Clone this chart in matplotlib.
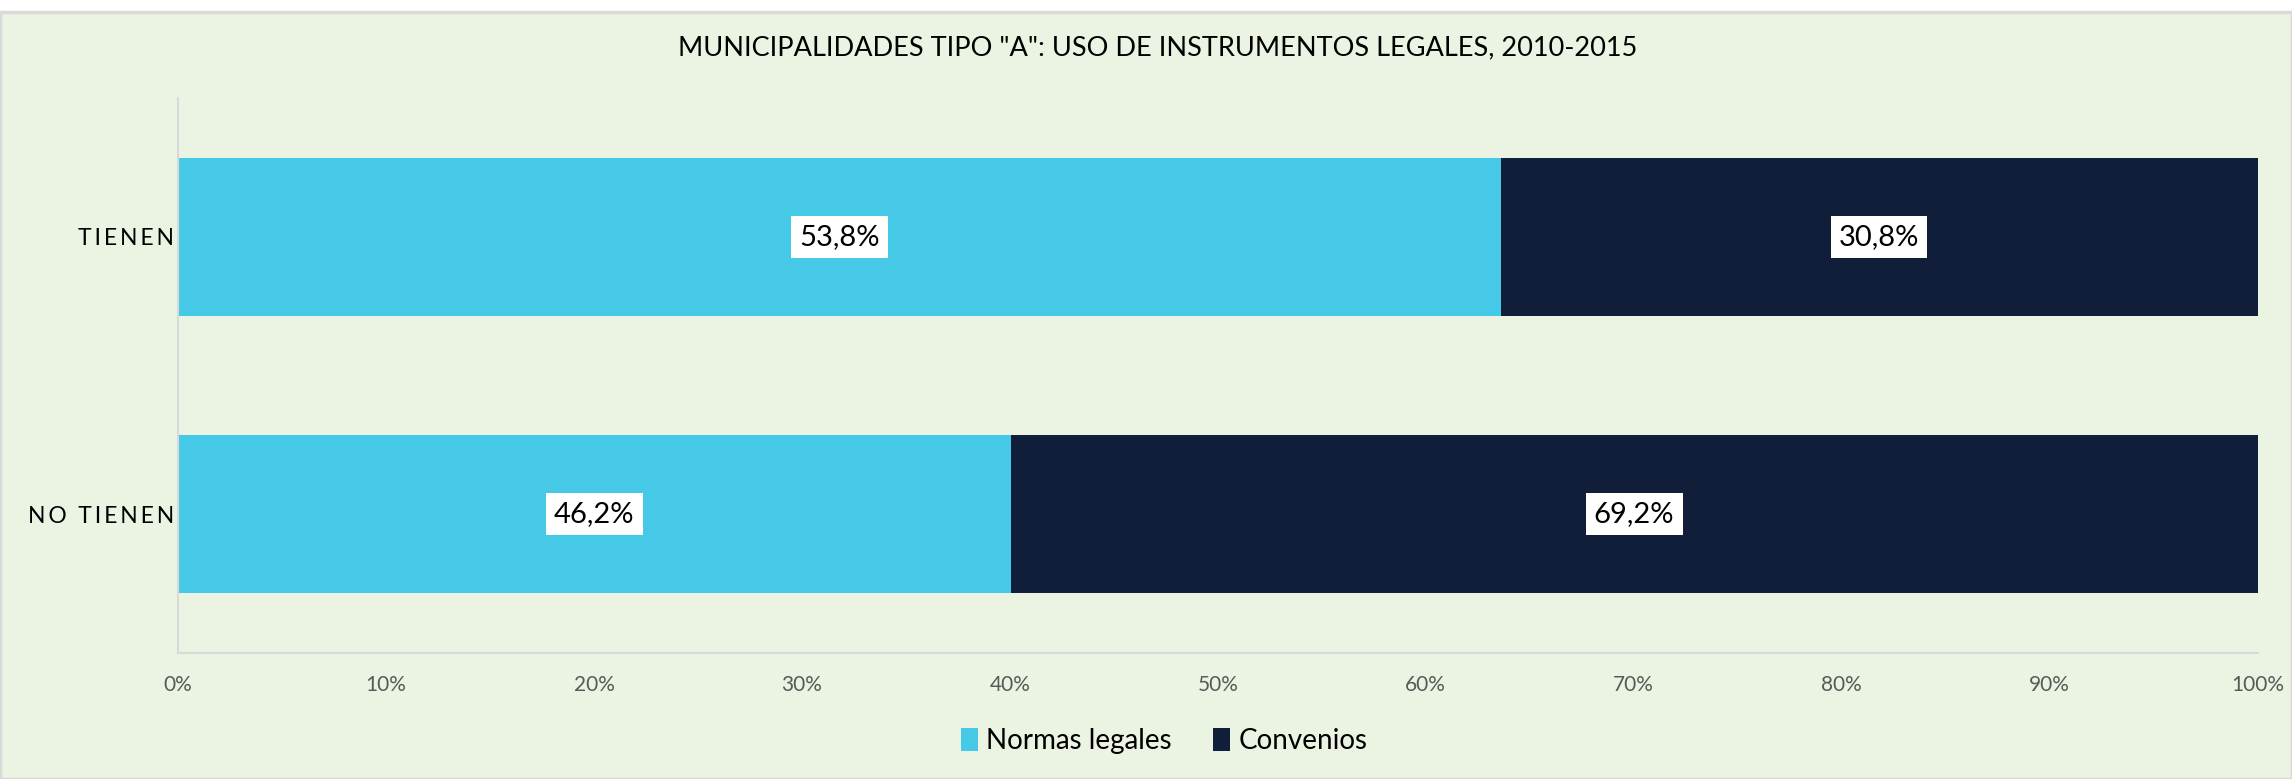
import matplotlib
matplotlib.use("Agg")
import matplotlib.pyplot as plt
import matplotlib.patches as mpatches
import numpy as np

# datos
categorias = ["TIENEN", "NO TIENEN"]
normas = [53.8, 46.2]
convenios = [30.8, 69.2]
ticks = [0, 10, 20, 30, 40, 50, 60, 70, 80, 90, 100]

c_normas = "#46C9E7"
c_conv = "#111E3A"
fondo = "#EBF4E3"

plt.rcParams["font.family"] = ["Lato", "DejaVu Sans"]


def espaciado(txt):
    # letras separadas como en el original
    return "\u2009".join(txt).replace("\u2009 \u2009", "\u2009\u2009\u2009\u2009")


fig = plt.figure(figsize=(22.92, 7.79), dpi=100)
fig.patch.set_facecolor("white")
fig.patches.append(mpatches.Rectangle((0.0, 0.0), 1.0, 1 - 12 / 779, transform=fig.transFigure,
                                      facecolor=fondo, edgecolor="#D9D9D9", linewidth=2.5, zorder=-10))

ax = fig.add_axes([0.0777, 0.1617, 0.9073, 0.7123])
ax.set_facecolor(fondo)

tot = np.array(normas) + np.array(convenios)
p_norm = np.array(normas) / tot * 100
p_conv = np.array(convenios) / tot * 100
y = np.arange(len(categorias))
h = 0.57

ax.barh(y, p_norm, height=h, color=c_normas, label="Normas legales")
ax.barh(y, p_conv, left=p_norm, height=h, color=c_conv, label="Convenios")

for i in range(len(categorias)):
    ax.text(p_norm[i] / 2, y[i], f"{normas[i]:.1f}%".replace(".", ","), ha="center", va="center",
            fontsize=21, color="black",
            bbox=dict(boxstyle="square,pad=0.28", facecolor="white", edgecolor="none"))
    ax.text(p_norm[i] + p_conv[i] / 2, y[i], f"{convenios[i]:.1f}%".replace(".", ","), ha="center",
            va="center", fontsize=21, color="black",
            bbox=dict(boxstyle="square,pad=0.28", facecolor="white", edgecolor="none"))

ax.set_xlim(0, 100)
ax.set_ylim(1.5, -0.5)
ax.set_xticks(ticks)
ax.set_xticklabels([f"{t}%" for t in ticks], fontsize=15, color="#595959")
ax.set_yticks(y)
ax.set_yticklabels([espaciado(c) for c in categorias], fontsize=16.5, color="black")
ax.tick_params(length=0)
ax.tick_params(axis="x", pad=16)
ax.tick_params(axis="y", pad=3)
for s in ["top", "right"]:
    ax.spines[s].set_visible(False)
for s in ["left", "bottom"]:
    ax.spines[s].set_color("#D9D9D9")
    ax.spines[s].set_linewidth(1.5)

fig.text(0.505, 1 - 48 / 779, 'MUNICIPALIDADES TIPO "A": USO DE INSTRUMENTOS LEGALES, 2010-2015',
         ha="center", va="center", fontsize=19.5, color="black")

fig.legend(loc="center", bbox_to_anchor=(0.508, 0.049), ncol=2, frameon=False, fontsize=20,
           handlelength=0.6, handleheight=0.9, handletextpad=0.3, columnspacing=1.5)

fig.savefig("out.png", dpi=100, facecolor=fig.get_facecolor())
